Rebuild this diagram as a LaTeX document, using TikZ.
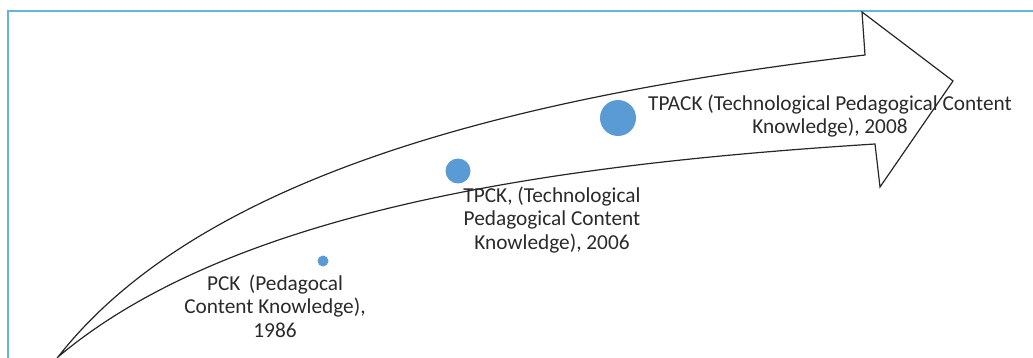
\documentclass[tikz,border=0pt]{standalone}
\usepackage{fontspec}
\setmainfont{Carlito}
\definecolor{dotblue}{HTML}{5B9BD5}
\definecolor{framecol}{HTML}{62B8D3}
\definecolor{txtcol}{HTML}{2A2A2A}
\begin{document}
\begin{tikzpicture}[x=1pt,y=-1pt,
  dotnode/.style={circle,fill=dotblue,draw=none,inner sep=0pt},
  lbl/.style={align=center,text=txtcol,inner sep=0pt,font=\fontsize{21.3}{23.5}\selectfont},
  arrowline/.style={draw=black!85,line width=1.2pt,line join=miter}]
\useasboundingbox (0,0) rectangle (1033,358);
% frame (top and left edges only)
\draw[framecol,line width=1.6pt] (8,358) -- (8,11) -- (1033,11);
% curved arrow
\coordinate (tail) at (58,357);
\coordinate (ua) at (865,55);
\coordinate (ht) at (862,12);
\coordinate (tip) at (953,81);
\coordinate (hb) at (880,187);
\coordinate (la) at (875,144);
\draw[arrowline] (tail) .. controls (212,160) and (565,91) .. (ua)
  -- (ht) -- (tip) -- (hb) -- (la)
  .. controls (575,163) and (238,205) .. (tail) -- cycle;
% dots
\node[dotnode,minimum size=11pt] (d1) at (323,261) {};
\node[dotnode,minimum size=25pt] (d2) at (458,171) {};
\node[dotnode,minimum size=36pt] (d3) at (618,118) {};
% labels
\node[lbl] (t1) at (275,306) {PCK\, (Pedagocal\\Content Knowledge),\\1986};
\node[lbl] (t2) at (552,220) {TPCK, (Technological\\Pedagogical Content\\Knowledge), 2006};
\node[lbl] (t3) at (830,116) {TPACK (Technological Pedagogical Content\\Knowledge), 2008};
\end{tikzpicture}
\end{document}
